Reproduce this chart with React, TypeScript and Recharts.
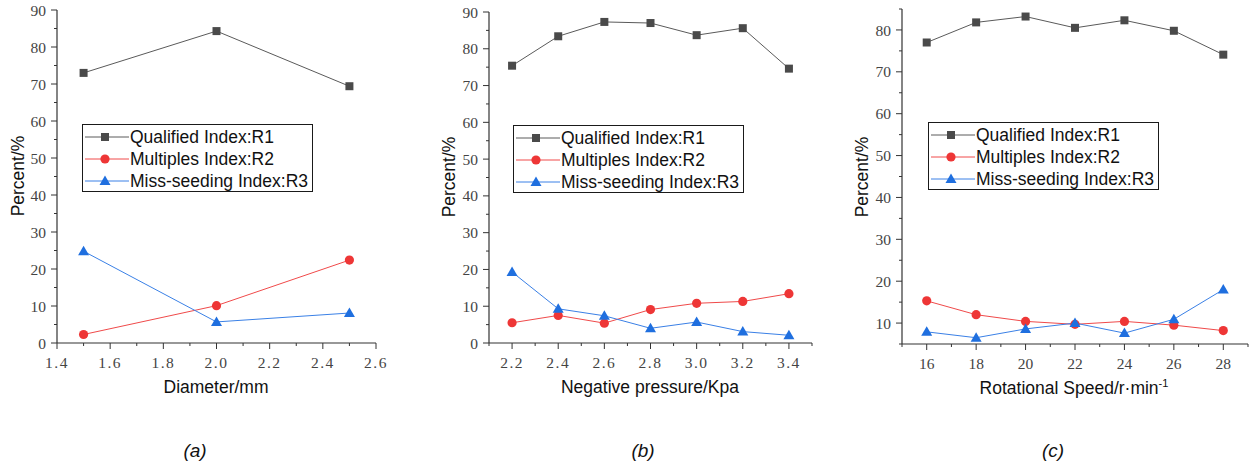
import React from 'react';
import { LineChart, Line, XAxis, YAxis, Legend } from 'recharts';

// (a) seed diameter
const diameter = [1.5, 2.0, 2.5];
const diameterR1 = [73.0, 84.3, 69.4];
const diameterR2 = [2.3, 10.1, 22.4];
const diameterR3 = [24.8, 5.7, 8.1];

// (b) negative pressure
const pressure = [2.2, 2.4, 2.6, 2.8, 3.0, 3.2, 3.4];
const pressureR1 = [75.4, 83.4, 87.3, 87.0, 83.7, 85.6, 74.6];
const pressureR2 = [5.5, 7.5, 5.4, 9.1, 10.8, 11.3, 13.4];
const pressureR3 = [19.3, 9.3, 7.4, 4.0, 5.7, 3.1, 2.1];

// (c) rotational speed
const speed = [16, 18, 20, 22, 24, 26, 28];
const speedR1 = [77.0, 81.8, 83.2, 80.5, 82.3, 79.8, 74.1];
const speedR2 = [15.3, 12.0, 10.4, 9.7, 10.4, 9.5, 8.2];
const speedR3 = [7.9, 6.5, 8.6, 10.0, 7.6, 10.9, 18.0];

const seriesNames = ['Qualified Index:R1', 'Multiples Index:R2', 'Miss-seeding Index:R3'];

// tick labels
const diameterMajor = [1.4, 1.6, 1.8, 2.0, 2.2, 2.4, 2.6];
const diameterMinor = [1.5, 1.7, 1.9, 2.1, 2.3, 2.5];
const pressureMajor = [2.2, 2.4, 2.6, 2.8, 3.0, 3.2, 3.4];
const pressureMinor = [2.1, 2.3, 2.5, 2.7, 2.9, 3.1, 3.3, 3.5];
const speedMajor = [16, 18, 20, 22, 24, 26, 28];
const speedMinor = [15, 17, 19, 21, 23, 25, 27, 29];
const pctMajor = [0, 10, 20, 30, 40, 50, 60, 70, 80, 90];
const pctMinor = [5, 15, 25, 35, 45, 55, 65, 75, 85];
const speedPctMajor = [10, 20, 30, 40, 50, 60, 70, 80];
const speedPctMinor = [5, 15, 25, 35, 45, 55, 65, 75, 85];

const COLORS = { r1: '#4a4a4a', r1Line: '#5a5a5a', r2: '#ee3636', r2Line: '#f04a4a', r3: '#1f6fdf', r3Line: '#3a80e6' };
const AXIS = '#333';
const SANS = '"Liberation Sans", Arial, sans-serif';
const SERIF = '"Liberation Serif", "Times New Roman", serif';

const rows = (xs: number[], a: number[], b: number[], c: number[]) =>
  xs.map((x, i) => ({ x, r1: a[i], r2: b[i], r3: c[i] }));

const isIn = (list: number[], v: number) => list.some((m) => Math.abs(m - v) < 1e-6);

const fmt = (v: number, digits: number) => v.toFixed(digits);

const Square = (props: any) => {
  const { cx, cy } = props;
  if (cx == null || cy == null) return null;
  return <rect x={cx - 4} y={cy - 4} width={8} height={8} fill={COLORS.r1} />;
};
const Circle = (props: any) => {
  const { cx, cy } = props;
  if (cx == null || cy == null) return null;
  return <circle cx={cx} cy={cy} r={4.6} fill={COLORS.r2} />;
};
const Triangle = (props: any) => {
  const { cx, cy } = props;
  if (cx == null || cy == null) return null;
  return <polygon points={`${cx},${cy - 5.5} ${cx - 5.5},${cy + 4} ${cx + 5.5},${cy + 4}`} fill={COLORS.r3} />;
};

const legendRows = [
  { name: seriesNames[0], color: COLORS.r1Line, Marker: Square },
  { name: seriesNames[1], color: COLORS.r2Line, Marker: Circle },
  { name: seriesNames[2], color: COLORS.r3Line, Marker: Triangle },
];

const LegendBox = () => (
  <div style={{ width: 231, height: 68, boxSizing: 'border-box', border: '1.4px solid #1a1a1a', background: '#fff', paddingTop: 1 }}>
    {legendRows.map((r) => (
      <div key={r.name} style={{ display: 'flex', alignItems: 'center', height: 22 }}>
        <svg width={47} height={22} style={{ flex: 'none' }}>
          <line x1={2} x2={46} y1={11} y2={11} stroke={r.color} strokeWidth={1} />
          <r.Marker cx={22} cy={11} />
        </svg>
        <span style={{ fontFamily: SANS, fontSize: 17.5, color: '#111', whiteSpace: 'nowrap' }}>{r.name}</span>
      </div>
    ))}
  </div>
);

const makeYTick = (axisX: number, majors: number[]) => (props: any) => {
  const { y, payload } = props;
  const v = payload.value;
  const major = isIn(majors, v);
  return (
    <g>
      <line x1={axisX - (major ? 6 : 3)} x2={axisX} y1={y} y2={y} stroke={AXIS} strokeWidth={1} />
      {major && (
        <text x={axisX - 11} y={y} dy="0.36em" textAnchor="end" fontFamily={SERIF} fontSize={15.5} fill="#444">
          {v}
        </text>
      )}
    </g>
  );
};

const makeXTick = (axisY: number, majors: number[], digits: number) => (props: any) => {
  const { x, payload } = props;
  const v = payload.value;
  const major = isIn(majors, v);
  return (
    <g>
      <line x1={x} x2={x} y1={axisY} y2={axisY + (major ? 6 : 3)} stroke={AXIS} strokeWidth={1} />
      {major && (
        <text x={x} y={axisY + 19} dy="0.36em" textAnchor="middle" fontFamily={SERIF} fontSize={15.5} fill="#444" letterSpacing={digits ? 1.5 : 0}>
          {fmt(v, digits)}
        </text>
      )}
    </g>
  );
};

type PanelProps = {
  left: number;
  width: number;
  marginTop: number;
  marginRight: number;
  yWidth: number;
  xHeight: number;
  data: any[];
  xDomain: [number, number];
  xMajor: number[];
  xMinor: number[];
  xDigits: number;
  yDomain: [number, number];
  yMajor: number[];
  yMinor: number[];
  legendLeft: number;
  legendTop: number;
};

const CHART_H = 400;

const Panel = (p: PanelProps) => {
  const axisX = p.yWidth;
  const axisY = CHART_H - p.xHeight;
  const xTicks = [...p.xMajor, ...p.xMinor].sort((a, b) => a - b);
  const yTicks = [...p.yMajor, ...p.yMinor].sort((a, b) => a - b);
  return (
    <div style={{ position: 'absolute', left: p.left, top: 0 }}>
      <LineChart width={p.width} height={CHART_H} data={p.data} margin={{ top: p.marginTop, right: p.marginRight, left: 0, bottom: 0 }}>
        <XAxis
          type="number"
          dataKey="x"
          domain={p.xDomain}
          ticks={xTicks}
          interval={0}
          height={p.xHeight}
          axisLine={{ stroke: AXIS, strokeWidth: 1.2 }}
          tickLine={false}
          tick={makeXTick(axisY, p.xMajor, p.xDigits)}
          allowDataOverflow
        />
        <YAxis
          type="number"
          domain={p.yDomain}
          ticks={yTicks}
          interval={0}
          width={p.yWidth}
          axisLine={{ stroke: AXIS, strokeWidth: 1.2 }}
          tickLine={false}
          tick={makeYTick(axisX, p.yMajor)}
          allowDataOverflow
        />
        <Legend
          layout="vertical"
          align="center"
          verticalAlign="middle"
          content={() => <LegendBox />}
          wrapperStyle={{ left: p.legendLeft, top: p.legendTop, width: 231, height: 68 }}
        />
        <Line dataKey="r1" name={seriesNames[0]} stroke={COLORS.r1Line} strokeWidth={1} dot={<Square />} activeDot={false} isAnimationActive={false} />
        <Line dataKey="r2" name={seriesNames[1]} stroke={COLORS.r2Line} strokeWidth={1} dot={<Circle />} activeDot={false} isAnimationActive={false} />
        <Line dataKey="r3" name={seriesNames[2]} stroke={COLORS.r3Line} strokeWidth={1} dot={<Triangle />} activeDot={false} isAnimationActive={false} />
      </LineChart>
    </div>
  );
};

const YTitle = ({ x, y }: { x: number; y: number }) => (
  <div style={{ position: 'absolute', left: x, top: y, transform: 'translate(-50%, -50%) rotate(-90deg)', fontFamily: SANS, fontSize: 17.5, color: '#111', whiteSpace: 'nowrap' }}>
    Percent/%
  </div>
);

const XTitle = ({ x, y, children }: { x: number; y: number; children: React.ReactNode }) => (
  <div style={{ position: 'absolute', left: x, top: y, transform: 'translate(-50%, -50%)', fontFamily: SANS, fontSize: 17.5, color: '#111', whiteSpace: 'nowrap' }}>
    {children}
  </div>
);

const Caption = ({ x, text }: { x: number; text: string }) => (
  <div style={{ position: 'absolute', left: x, top: 451, transform: 'translate(-50%, -50%)', fontFamily: SANS, fontStyle: 'italic', fontSize: 19, color: '#111' }}>
    {text}
  </div>
);

export default function App() {
  return (
    <div style={{ position: 'absolute', left: 0, top: 0, width: 1250, height: 467, background: '#fff', overflow: 'hidden' }}>
      <Panel
        left={0} width={400} marginTop={10} marginRight={24} yWidth={57} xHeight={57}
        data={rows(diameter, diameterR1, diameterR2, diameterR3)}
        xDomain={[1.4, 2.6]} xMajor={diameterMajor} xMinor={diameterMinor} xDigits={1}
        yDomain={[0, 90]} yMajor={pctMajor} yMinor={pctMinor}
        legendLeft={82} legendTop={124}
      />
      <Panel
        left={420} width={410} marginTop={12} marginRight={18} yWidth={69} xHeight={57}
        data={rows(pressure, pressureR1, pressureR2, pressureR3)}
        xDomain={[2.1, 3.5]} xMajor={pressureMajor} xMinor={pressureMinor} xDigits={1}
        yDomain={[0, 90]} yMajor={pctMajor} yMinor={pctMinor}
        legendLeft={93} legendTop={125}
      />
      <Panel
        left={840} width={410} marginTop={9} marginRight={2} yWidth={62} xHeight={56}
        data={rows(speed, speedR1, speedR2, speedR3)}
        xDomain={[15, 29]} xMajor={speedMajor} xMinor={speedMinor} xDigits={0}
        yDomain={[5, 85]} yMajor={speedPctMajor} yMinor={speedPctMinor}
        legendLeft={88} legendTop={122}
      />
      <YTitle x={18} y={176} />
      <YTitle x={449} y={177} />
      <YTitle x={862} y={177} />
      <XTitle x={216} y={387}>Diameter/mm</XTitle>
      <XTitle x={650} y={387}>Negative pressure/Kpa</XTitle>
      <XTitle x={1074} y={388}>
        Rotational Speed/r·min<sup style={{ fontSize: 11 }}>-1</sup>
      </XTitle>
      <Caption x={195} text="(a)" />
      <Caption x={643} text="(b)" />
      <Caption x={1053} text="(c)" />
    </div>
  );
}
